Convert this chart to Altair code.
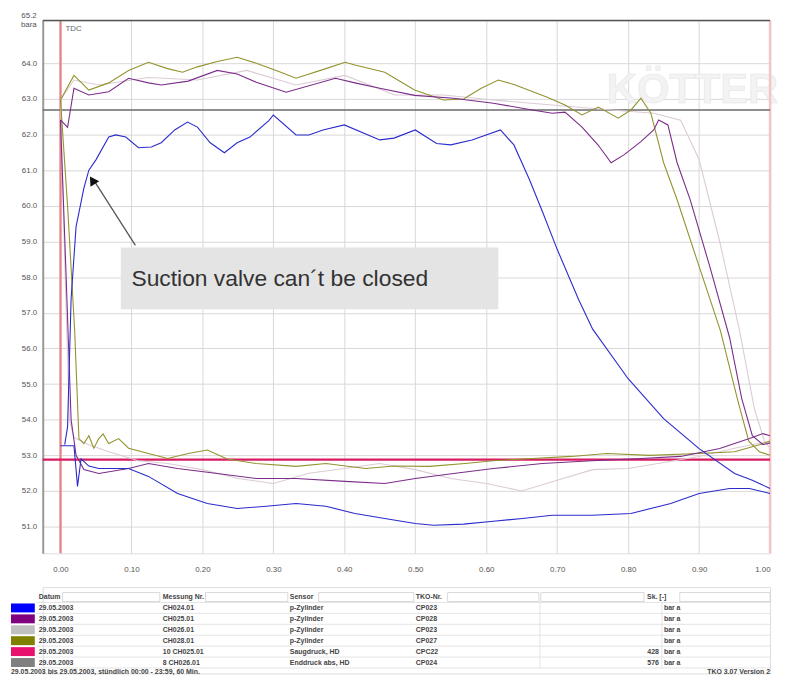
import altair as alt
import pandas as pd

# ---------------- data (x = fraction of revolution, y = pressure in bara) ----------------
blue_up_x = [0.006, 0.01, 0.015, 0.022, 0.033, 0.04, 0.05, 0.068, 0.078, 0.092, 0.11, 0.128, 0.142, 0.161,
             0.179, 0.193, 0.211, 0.231, 0.249, 0.267, 0.294, 0.30, 0.332, 0.35, 0.37, 0.40, 0.45, 0.47, 0.50,
             0.53, 0.55, 0.58, 0.62, 0.639, 0.661, 0.68, 0.70, 0.73, 0.75, 0.80, 0.85, 0.90, 0.95, 0.975, 1.0]
blue_up_y = [53.3, 53.8, 57.4, 59.42, 60.5, 61.0, 61.29, 61.93, 61.99, 61.93, 61.63, 61.65, 61.77, 62.13,
             62.35, 62.21, 61.77, 61.49, 61.77, 61.93, 62.4, 62.55, 61.99, 61.99, 62.13, 62.27, 61.85, 61.9, 62.13,
             61.75, 61.71, 61.85, 62.13, 61.71, 60.73, 59.8, 58.78, 57.38, 56.54, 55.15, 54.03, 53.19, 52.49, 52.3, 52.07]

blue_lo_x = [0.0, 0.019, 0.022, 0.024, 0.029, 0.04, 0.054, 0.096, 0.124, 0.165, 0.207, 0.249, 0.29, 0.332,
             0.374, 0.415, 0.457, 0.50, 0.526, 0.568, 0.61, 0.651, 0.693, 0.749, 0.804, 0.86, 0.90, 0.943, 0.971, 1.0]
blue_lo_y = [53.27, 53.27, 52.6, 52.13, 52.9, 52.7, 52.63, 52.63, 52.41, 51.93, 51.65, 51.51, 51.57, 51.65,
             51.57, 51.37, 51.23, 51.09, 51.04, 51.07, 51.15, 51.23, 51.32, 51.32, 51.37, 51.65, 51.93, 52.07, 52.07, 51.93]

purple_up_x = [0.0, 0.01, 0.019, 0.04, 0.068, 0.096, 0.124, 0.142, 0.18, 0.221, 0.249, 0.276, 0.318, 0.3875,
               0.415, 0.45, 0.499, 0.554, 0.61, 0.665, 0.693, 0.711, 0.735, 0.758, 0.776, 0.794, 0.818, 0.836,
               0.843, 0.856, 0.869, 0.8875, 0.915, 0.943, 0.96, 0.975, 0.99, 1.0]
purple_up_y = [62.41, 62.2, 63.3, 63.11, 63.2, 63.58, 63.45, 63.39, 63.5, 63.8, 63.7, 63.47, 63.19, 63.58,
               63.45, 63.3, 63.1, 63.02, 62.88, 62.69, 62.6, 62.63, 62.21, 61.7, 61.21, 61.43, 61.8, 62.13,
               62.41, 62.27, 61.21, 60.17, 58.3, 56.3, 54.6, 53.55, 53.3, 53.35]

purple_lo_x = [0.0, 0.008, 0.015, 0.022, 0.033, 0.054, 0.096, 0.124, 0.165, 0.221, 0.276, 0.332, 0.401, 0.457,
               0.50, 0.554, 0.61, 0.679, 0.749, 0.818, 0.874, 0.929, 0.971, 0.99, 1.0]
purple_lo_y = [62.41, 58.0, 54.0, 53.0, 52.6, 52.49, 52.63, 52.77, 52.63, 52.49, 52.35, 52.35, 52.27, 52.21,
               52.35, 52.49, 52.63, 52.77, 52.85, 52.91, 52.97, 53.19, 53.47, 53.61, 53.55]

olive_up_x = [0.0, 0.019, 0.040, 0.068, 0.096, 0.124, 0.151, 0.172, 0.193, 0.221, 0.249, 0.276, 0.304, 0.332,
              0.374, 0.401, 0.415, 0.457, 0.499, 0.540, 0.568, 0.593, 0.617, 0.64, 0.686, 0.711, 0.735, 0.758,
              0.786, 0.804, 0.818, 0.832, 0.85, 0.869, 0.90, 0.93, 0.955, 0.97, 0.985, 1.0]
olive_up_y = [62.97, 63.66, 63.25, 63.45, 63.8, 64.03, 63.85, 63.75, 63.9, 64.05, 64.17, 64.0, 63.8, 63.58,
              63.85, 64.03, 63.95, 63.75, 63.25, 62.97, 63.0, 63.3, 63.53, 63.4, 63.05, 62.83, 62.55, 62.77,
              62.46, 62.69, 63.02, 62.6, 61.21, 60.17, 58.3, 56.5, 54.5, 53.4, 53.1, 53.0]

olive_lo_x = [0.0, 0.01, 0.02, 0.026, 0.033, 0.04, 0.047, 0.054, 0.06, 0.068, 0.082, 0.096, 0.124, 0.151, 0.18,
              0.207, 0.235, 0.276, 0.332, 0.374, 0.43, 0.47, 0.52, 0.57, 0.61, 0.665, 0.72, 0.77, 0.83, 0.9,
              0.95, 0.985, 1.0]
olive_lo_y = [62.97, 60.0, 56.5, 53.47, 53.33, 53.55, 53.2, 53.47, 53.6, 53.33, 53.47, 53.2, 53.05, 52.91, 53.05,
              53.15, 52.9, 52.77, 52.69, 52.77, 52.63, 52.7, 52.69, 52.77, 52.85, 52.91, 52.97, 53.05, 53.0, 53.05,
              53.1, 53.3, 53.4]

light_up_x = [0.0, 0.019, 0.054, 0.124, 0.193, 0.2625, 0.332, 0.401, 0.471, 0.540, 0.61, 0.693, 0.776, 0.836,
              0.874, 0.90, 0.929, 0.957, 0.978, 0.992, 1.0]
light_up_y = [62.97, 63.53, 63.39, 63.6, 63.53, 63.8, 63.39, 63.66, 63.11, 63.11, 62.97, 62.83, 62.69, 62.6,
              62.4, 61.3, 59.0, 56.5, 54.3, 53.4, 53.2]

light_lo_x = [0.0, 0.006, 0.0125, 0.019, 0.04, 0.068, 0.11, 0.151, 0.2, 0.25, 0.3, 0.35, 0.40, 0.45, 0.5, 0.55,
              0.6, 0.65, 0.7, 0.75, 0.8, 0.85, 0.9, 0.95, 1.0]
light_lo_y = [62.97, 58.5, 54.0, 53.5, 53.3, 53.1, 52.85, 52.77, 52.6, 52.35, 52.21, 52.5, 52.63, 52.77, 52.6,
              52.35, 52.21, 52.0, 52.3, 52.6, 52.63, 52.8, 52.97, 53.2, 53.4]

discharge_level = 62.69
suction_level = 52.88

y_ticks = [51, 52, 53, 54, 55, 56, 57, 58, 59, 60, 61, 62, 63, 64]
x_ticks = [round(i * 0.05, 2) for i in range(21)]

series_names = ["light", "olive", "purple", "blue"]
series_colors = ["#dccbd6", "#939330", "#7c2d8a", "#2b2bcc"]

# legend table contents
leg_colors = ["#0000ff", "#800080", "#c0c0c0", "#808000", "#e8116e", "#808080"]
leg_date = ["29.05.2003"] * 6
leg_mess = ["CH024.01", "CH025.01", "CH026.01", "CH028.01", "10 CH025.01", "8 CH026.01"]
leg_sensor = ["p-Zylinder", "p-Zylinder", "p-Zylinder", "p-Zylinder", "Saugdruck, HD", "Enddruck abs, HD"]
leg_tko = ["CP023", "CP028", "CP023", "CP027", "CPC22", "CP024"]
leg_val = ["", "", "", "", "428", "576"]
leg_unit = ["bar a"] * 6
leg_headers = ["Datum", "Messung Nr.", "Sensor", "TKO-Nr.", "Sk. [-]"]
footer_left = "29.05.2003 bis 29.05.2003, stündlich 00:00 - 23:59, 60 Min."
footer_right = "TKO 3.07 Version 2"

# ---------------- main chart ----------------
rows = []
traces = [
    ("light", "up", light_up_x, light_up_y), ("light", "lo", light_lo_x, light_lo_y),
    ("olive", "up", olive_up_x, olive_up_y), ("olive", "lo", olive_lo_x, olive_lo_y),
    ("purple", "up", purple_up_x, purple_up_y), ("purple", "lo", purple_lo_x, purple_lo_y),
    ("blue", "up", blue_up_x, blue_up_y), ("blue", "lo", blue_lo_x, blue_lo_y),
]
for name, part, xs, ys in traces:
    for x, y in zip(xs, ys):
        rows.append({"series": name, "trace": name + "_" + part, "x": x, "y": y})
df = pd.DataFrame(rows)

W = 733
xscale = alt.Scale(domain=[-0.025, 1.0], nice=False, zero=False)
yscale = alt.Scale(domain=[50.25, 65.2], nice=False, zero=False)

xaxis = alt.Axis(values=x_ticks, format=".2f", labelFontSize=8, labelColor="#555", tickSize=0,
                 labelPadding=12, domain=False, grid=True, gridColor="#d8d8d8", labelFlush=True,
                 title=None, labelFont="Liberation Sans")
yaxis = alt.Axis(values=y_ticks, format=".1f", labelFontSize=8, labelColor="#555", tickSize=0,
                 labelPadding=6, domainColor="#9a9a9a", domainWidth=2, grid=True, gridColor="#d8d8d8",
                 title=None, labelFont="Liberation Sans")

base_x = alt.X("x:Q", scale=xscale, axis=xaxis)
base_y = alt.Y("y:Q", scale=yscale, axis=yaxis)

grid_layer = alt.Chart(df).mark_point(opacity=0).encode(x=base_x, y=base_y)

# watermark
wm = alt.Chart(pd.DataFrame({"x": [0.77], "y": [63.25], "t": ["KÖTTER"]})).mark_text(
    align="left", baseline="middle", fontSize=42, font="Liberation Sans", fontWeight="bold",
    color="#f3f3f3", stroke="#e6e6e6", strokeWidth=0.6
).encode(x="x:Q", y="y:Q", text="t:N")

levels = pd.DataFrame({"y": [discharge_level, suction_level], "c": ["#6a6a6a", "#d81b60"], "w": [1.6, 2.2]})
level_lines = alt.Chart(levels).mark_rule().encode(
    y="y:Q", color=alt.Color("c:N", scale=None), strokeWidth=alt.StrokeWidth("w:Q", scale=None))

vlines = pd.DataFrame({"x": [0.0, 1.0], "c": ["#e98080", "#f6c4c4"], "w": [2.2, 2.5]})
v_lines = alt.Chart(vlines).mark_rule().encode(
    x="x:Q", color=alt.Color("c:N", scale=None), strokeWidth=alt.StrokeWidth("w:Q", scale=None))

top_border = alt.Chart(pd.DataFrame({"y": [65.2]})).mark_rule(color="#555555", strokeWidth=1.5).encode(y="y:Q")

lines = alt.Chart(df).mark_line(strokeWidth=1.1).encode(
    x="x:Q", y="y:Q",
    color=alt.Color("series:N", scale=alt.Scale(domain=series_names, range=series_colors), legend=None),
    detail="trace:N",
)

tdc = alt.Chart(pd.DataFrame({"x": [0.007], "y": [64.95], "t": ["TDC"]})).mark_text(
    align="left", baseline="middle", fontSize=8, color="#666", font="Liberation Sans"
).encode(x="x:Q", y="y:Q", text="t:N")

top_lbl1 = alt.Chart(pd.DataFrame({"y": [65.2], "t": ["65.2"]})).mark_text(
    align="right", baseline="middle", fontSize=8, color="#555", font="Liberation Sans", dy=-5
).encode(x=alt.value(-6), y="y:Q", text="t:N")
top_lbl2 = alt.Chart(pd.DataFrame({"y": [65.2], "t": ["bara"]})).mark_text(
    align="right", baseline="middle", fontSize=8, color="#555", font="Liberation Sans", dy=5
).encode(x=alt.value(-6), y="y:Q", text="t:N")

# annotation
box = alt.Chart(pd.DataFrame({"x": [0.085], "x2": [0.617], "y": [58.83], "y2": [57.10]})).mark_rect(
    color="#e4e4e4").encode(x="x:Q", x2="x2:Q", y="y:Q", y2="y2:Q")
note = alt.Chart(pd.DataFrame({"x": [0.1], "y": [57.95], "t": ["Suction valve can´t be closed"]})).mark_text(
    align="left", baseline="middle", fontSize=23, font="Liberation Sans", color="#333333"
).encode(x="x:Q", y="y:Q", text="t:N")
arrow = alt.Chart(pd.DataFrame({"x": [0.1056], "y": [58.89], "x2": [0.046], "y2": [60.75]})).mark_rule(
    color="#555555", strokeWidth=1.3).encode(x="x:Q", y="y:Q", x2="x2:Q", y2="y2:Q")
head = alt.Chart(pd.DataFrame({"x": [0.045], "y": [60.72]})).mark_point(
    shape="triangle-up", filled=True, color="#111111", size=110, angle=327, opacity=1
).encode(x="x:Q", y="y:Q")

main = alt.layer(grid_layer, wm, v_lines, level_lines, top_border, lines, tdc, top_lbl1, top_lbl2,
                 box, note, arrow, head).properties(width=W, height=537)

# ---------------- legend table ----------------
tx = alt.Scale(domain=[44, 777], nice=False, zero=False)
ty = alt.Scale(domain=[588, 675], nice=False, zero=False, reverse=True)

row_y = [609, 620, 631, 642, 653, 664]
header_y = 598
col_x = [40, 165, 293, 420]

txt_left = []
for i, h in enumerate(leg_headers[:4]):
    txt_left.append({"px": col_x[i], "py": header_y, "t": h})
txt_left.append({"px": 653, "py": header_y, "t": leg_headers[4]})
for r in range(6):
    for i, arr in enumerate([leg_date, leg_mess, leg_sensor, leg_tko]):
        txt_left.append({"px": col_x[i], "py": row_y[r], "t": arr[r]})
    txt_left.append({"px": 670, "py": row_y[r], "t": leg_unit[r]})
txt_left.append({"px": 12, "py": 674, "t": footer_left})
txt_right = [{"px": 665, "py": row_y[r], "t": leg_val[r]} for r in range(6)]
txt_right.append({"px": 777, "py": 674, "t": footer_right})

t_left = alt.Chart(pd.DataFrame(txt_left)).mark_text(
    align="left", baseline="middle", fontSize=7, fontWeight="bold", color="#444", font="Liberation Sans"
).encode(x=alt.X("px:Q", scale=tx, axis=None), y=alt.Y("py:Q", scale=ty, axis=None), text="t:N")
t_right = alt.Chart(pd.DataFrame(txt_right)).mark_text(
    align="right", baseline="middle", fontSize=7, fontWeight="bold", color="#444", font="Liberation Sans"
).encode(x=alt.X("px:Q", scale=tx, axis=None), y=alt.Y("py:Q", scale=ty, axis=None), text="t:N")

sw = pd.DataFrame({"x": [12] * 6, "x2": [36] * 6, "y": [v - 4.5 for v in row_y],
                   "y2": [v + 4.5 for v in row_y], "c": leg_colors})
swatches = alt.Chart(sw).mark_rect().encode(
    x=alt.X("x:Q", scale=tx, axis=None), x2="x2:Q",
    y=alt.Y("y:Q", scale=ty, axis=None), y2="y2:Q", color=alt.Color("c:N", scale=None))

hb = pd.DataFrame({"x": [64, 208, 322, 452, 546, 686], "x2": [162, 291, 418, 544, 650, 777],
                   "y": [header_y - 4.5] * 6, "y2": [header_y + 4.5] * 6})
hboxes = alt.Chart(hb).mark_rect(fill="#ffffff", stroke="#cfcfcf", strokeWidth=0.8).encode(
    x=alt.X("x:Q", scale=tx, axis=None), x2="x2:Q", y=alt.Y("y:Q", scale=ty, axis=None), y2="y2:Q")

hr = pd.DataFrame({"x": [38] * 7, "x2": [777] * 7, "y": [header_y + 5.5] + [v + 5.5 for v in row_y]})
hrules = alt.Chart(hr).mark_rule(color="#dddddd", strokeWidth=0.8).encode(
    x=alt.X("x:Q", scale=tx, axis=None), x2="x2:Q", y=alt.Y("y:Q", scale=ty, axis=None))

vr = pd.DataFrame({"x": [545, 668], "y": [header_y + 5.5] * 2, "y2": [row_y[-1] + 5.5] * 2})
vrules = alt.Chart(vr).mark_rule(color="#dddddd", strokeWidth=0.8).encode(
    x=alt.X("x:Q", scale=tx, axis=None), y=alt.Y("y:Q", scale=ty, axis=None), y2="y2:Q")

table = alt.layer(hrules, vrules, hboxes, swatches, t_left, t_right).properties(width=W, height=87)

chart = alt.vconcat(main, table, spacing=12).properties(
    padding={"left": 2, "top": 0, "right": 0, "bottom": 0}
).configure_view(stroke=None).configure(background="#ffffff")

chart.save("out.html", embed_options={"renderer": "svg", "actions": False})
